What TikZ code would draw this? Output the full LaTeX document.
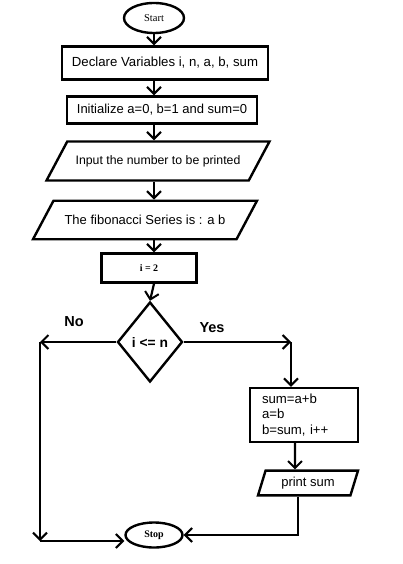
\documentclass[tikz,border=0pt]{standalone}
\usepackage{fontspec}
\setmainfont{Liberation Sans}
\newfontfamily\serifbold{Liberation Serif}
\usetikzlibrary{shapes.geometric,positioning,arrows.meta}

\tikzset{
  arr/.style={-{Straight Barb[length=7pt,width=14pt,line width=2pt]}},
  term/.style={ellipse, draw, line width=2.4pt, inner sep=0pt,
    font=\serifbold\bfseries\fontsize{10}{12}\selectfont},
  proc/.style={rectangle, draw, line width=2.4pt, inner sep=0pt,
    font=\fontsize{13.2}{15.5}\selectfont},
  io/.style={trapezium, trapezium stretches body, draw, line width=2.4pt,
    inner xsep=0pt, font=\fontsize{13}{15}\selectfont},
  decide/.style={diamond, draw, line width=2.4pt, inner sep=0pt,
    minimum width=65pt, minimum height=80pt,
    font=\bfseries\fontsize{13.8}{16}\selectfont},
  lab/.style={font=\bfseries\fontsize{14.5}{17}\selectfont}
}

\begin{document}
\begin{tikzpicture}[x=1pt, y=1pt, on grid, line width=2.2pt]
    \useasboundingbox (0,0) rectangle (402,-564);

    \node[term, minimum width=60pt, minimum height=30pt, font=\serifbold\fontsize{10.5}{12}\selectfont] (start) at (154,-18) {Start};
    \node[proc, minimum width=206pt, minimum height=33pt] (declare) [below=45pt of start, xshift=11pt] {Declare Variables i, n, a, b, sum};
    \node[proc, minimum width=190pt, minimum height=27pt, font=\fontsize{13}{15}\selectfont] (init) [below=47pt of declare, xshift=-3pt] {Initialize a=0, b=1 and sum=0};
    \node[io, trapezium left angle=62, trapezium right angle=118, minimum width=223pt, inner ysep=13.8pt, font=\fontsize{12.3}{14}\selectfont] (input) [below=51pt of init, xshift=-4pt] {Input the number to be printed};
    \node[io, trapezium left angle=62, trapezium right angle=118, minimum width=224pt, inner ysep=14.5pt] (fib) [below=59pt of input, xshift=-13pt] {The fibonacci Series is : a b};
    \node[proc, minimum width=95pt, minimum height=29pt, font=\serifbold\bfseries\fontsize{10}{12}\selectfont] (itwo) [below=48pt of fib, xshift=4pt] {i = 2};
    \node[decide] (cond) [below=74pt of itwo, xshift=1pt] {i <= n};
    \node[proc, minimum width=108pt, minimum height=54pt, text width=84pt, align=left] (body) [below right=73pt and 154pt of cond] {sum=a+b\\a=b\\b=sum, i++};
    \node[io, trapezium left angle=73, trapezium right angle=107, minimum width=100pt, inner ysep=6.3pt] (show) [below=68pt of body, xshift=4pt] {print sum};
    \node[term, minimum width=57pt, minimum height=25pt] (stop) [below=193pt of cond, xshift=4pt] {Stop};

    \node[lab] (no) [above left=20pt and 76pt of cond] {No};
    \node[lab] (yes) [above right=14pt and 62pt of cond] {Yes};

    \coordinate (nocorner) at (40,-342);
    \coordinate (nobot) at (40,-541);
    \coordinate (yescorner) at (291,-342);

    % main column
    \draw[arr] (start) -- (start |- declare.north);
    \draw[arr] (declare.south -| start) -- (start |- init.north);
    \draw[arr] (init.south -| start) -- (start |- input.north);
    \draw[arr] (input.south -| start) -- (start |- fib.north);
    \draw[arr] (fib.south -| start) -- (start |- itwo.north);
    \draw[arr] (itwo.south -| start) -- (cond.north);

    % yes branch
    \draw[arr] (cond.east) -- (yescorner);
    \draw[arr] (yescorner) -- (yescorner |- body.north);
    \draw[arr] ([xshift=-9pt]body.south) -- ([xshift=-13pt]show.north);
    \draw[arr] ([xshift=-10pt]show.south) |- (stop.east);

    % no branch
    \draw[arr] (cond.west) -- (nocorner);
    \draw[arr] (nocorner) -- (nobot);
    \draw[arr] (nobot) -- (nobot -| stop.west);
\end{tikzpicture}
\end{document}
